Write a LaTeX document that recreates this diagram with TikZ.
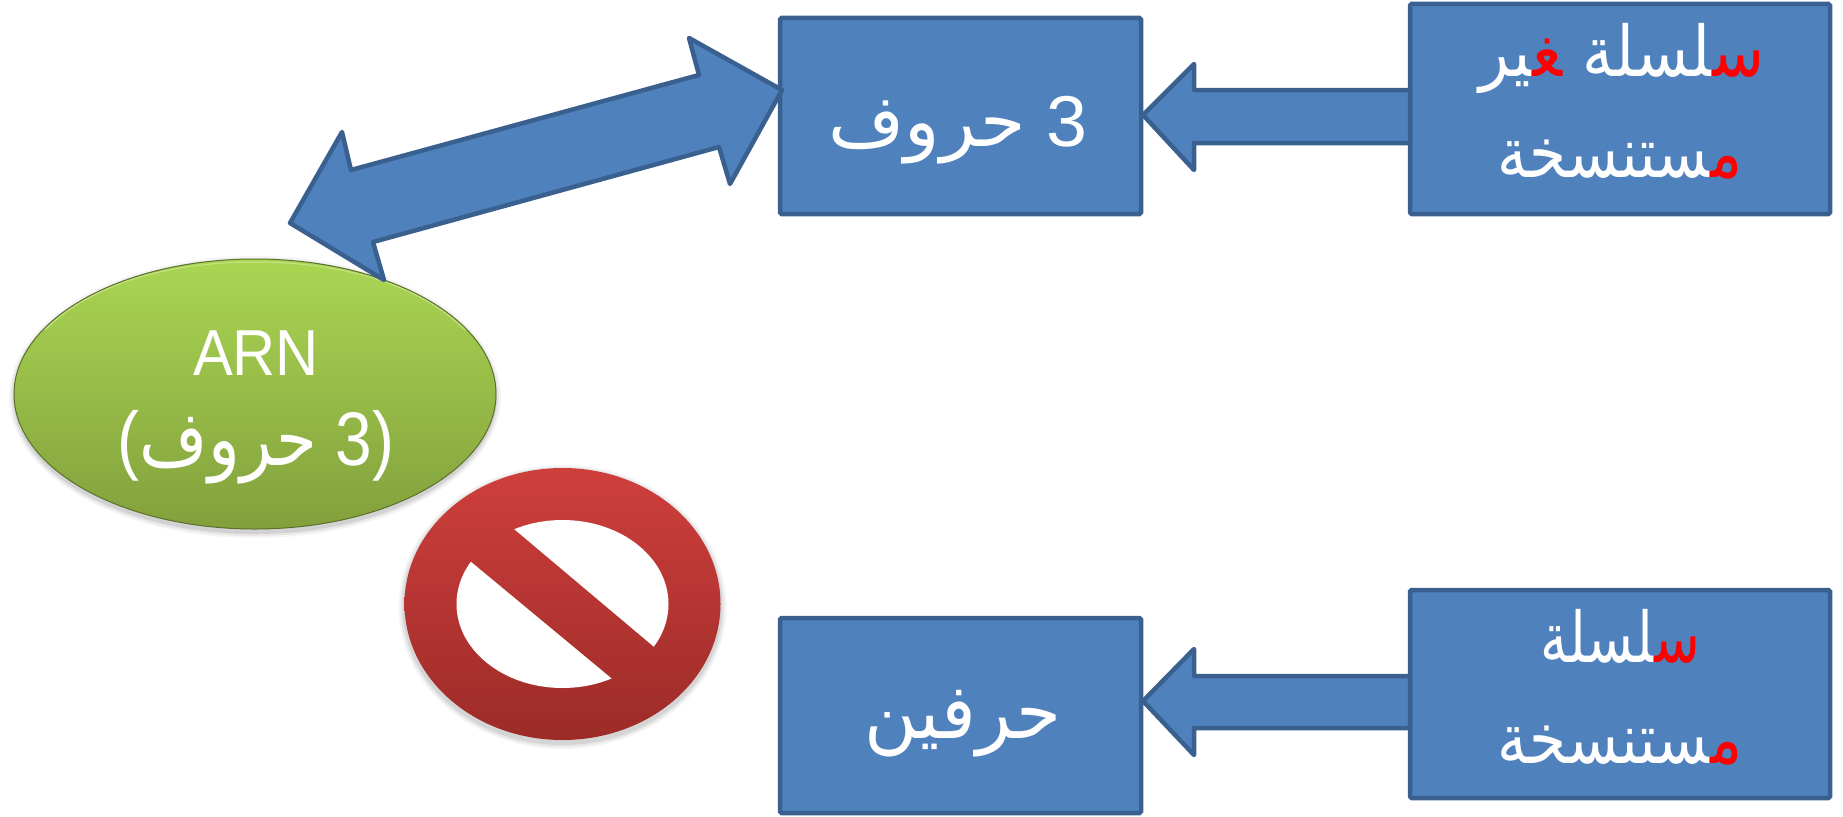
\documentclass[tikz,border=0pt]{standalone}
\usepackage{graphicx}
\usepackage{fontspec}
\setmainfont{Liberation Sans}
\newfontfamily\arabicfont[Script=Arabic]{DejaVu Sans}
\TeXXeTstate=1
\definecolor{boxfill}{HTML}{4F81BD}
\definecolor{boxline}{HTML}{3A6090}
\definecolor{greentop}{HTML}{AAD653}
\definecolor{greenbot}{HTML}{82A03C}
\definecolor{redtop}{HTML}{CE3F3C}
\definecolor{redbot}{HTML}{9C2B28}
\newcommand{\zj}{\char"200D }
\newcommand{\rr}[1]{\beginR #1\endR}
\newcommand{\redl}[1]{{\color{red}\rr{#1}}}
\newcommand{\fitw}[2]{\resizebox{#1pt}{\height}{#2}}
\tikzset{
  bluebox/.style={draw=boxline,fill=boxfill,line width=4.5pt,rounded corners=1.5pt},
  blockarrow/.style={draw=boxline,fill=boxfill,line width=4.5pt,line join=round},
  arlabel/.style={text=white,anchor=base,inner sep=0pt,font=\fontsize{#1}{#1}\selectfont\arabicfont},
  latlabel/.style={text=white,anchor=base,inner sep=0pt,font=\fontsize{#1}{#1}\selectfont},
}
\begin{document}
\begin{tikzpicture}[x=1pt,y=-1pt]
\useasboundingbox (0,0) rectangle (1843,816);
% ARN ellipse
\foreach \g/\o in {6/0.04,4/0.06,2/0.09}{
  \fill[black,opacity=\o] (255,397) ellipse ({240+\g} and {135+\g});
}
\shade[top color=greentop,bottom color=greenbot,draw=greenbot!70!black,line width=1pt]
  (255,394) ellipse (241 and 135);
\draw[greentop!70!white,line width=1pt] (45,330) .. controls (100,275) and (190,262) .. (255,262)
   .. controls (320,262) and (410,275) .. (465,330);
% forbidden sign
\foreach \g/\o in {6/0.04,4/0.06,2/0.08}{
  \fill[black,opacity=\o] (562.5,607) ellipse ({158+\g} and {136+\g});
}
\shade[top color=redtop,bottom color=redbot] (562.5,604) ellipse (158 and 136);
\begin{scope}
  \clip (562.5,604) ellipse (106 and 84);
  \fill[white] (444,470) -- (723,705) -- (760,400) -- cycle;
  \fill[white] (400,503) -- (681,736) -- (350,780) -- cycle;
\end{scope}
% boxes
\draw[bluebox] (780,18) rectangle (1141,214);
\draw[bluebox] (1410,4) rectangle (1830,214);
\draw[bluebox] (780,618) rectangle (1141,813);
\draw[bluebox] (1410,590) rectangle (1830,798);
% block arrows
\draw[blockarrow] (1143,115) -- (1194,64) -- (1194,90) -- (1410,90) -- (1410,143) -- (1194,143) -- (1194,170) -- cycle;
\draw[blockarrow] (1143,701) -- (1194,649) -- (1194,676) -- (1410,676) -- (1410,728) -- (1194,728) -- (1194,755) -- cycle;
\draw[blockarrow] (782,90) -- (689,38) -- (699,75) -- (351,170) -- (342,132) -- (290,223)
  -- (384,280) -- (373,242) -- (719,147) -- (730,184) -- cycle;
% texts
\node[arlabel=70] (rt1) at (1622,77) {\fitw{285}{\rr{\zj ير}\redl{\zj غ\zj}\ \rr{\zj لسلة}\redl{س\zj}}};
\node[arlabel=70] (rt2) at (1620,177) {\fitw{245}{\rr{\zj ستنسخة}\redl{م\zj}}};
\node[arlabel=70] (rb1) at (1620,662) {\fitw{160}{\rr{\zj لسلة}\redl{س\zj}}};
\node[arlabel=70] (rb2) at (1620,763) {\fitw{245}{\rr{\zj ستنسخة}\redl{م\zj}}};
\node[arlabel=76] (mb) at (963,738) {\fitw{197}{\rr{حرفين}}};
\node[latlabel=72] (mt) at (958,146) {\fitw{259}{\rr{{\arabicfont حروف}}\ 3}};
\node[latlabel=65] (arn) at (256,375) {\fitw{126}{ARN}};
\node[latlabel=76] (par) at (256,465) {\fitw{276}{(\rr{{\arabicfont حروف}}\ 3)}};
\end{tikzpicture}
\end{document}
